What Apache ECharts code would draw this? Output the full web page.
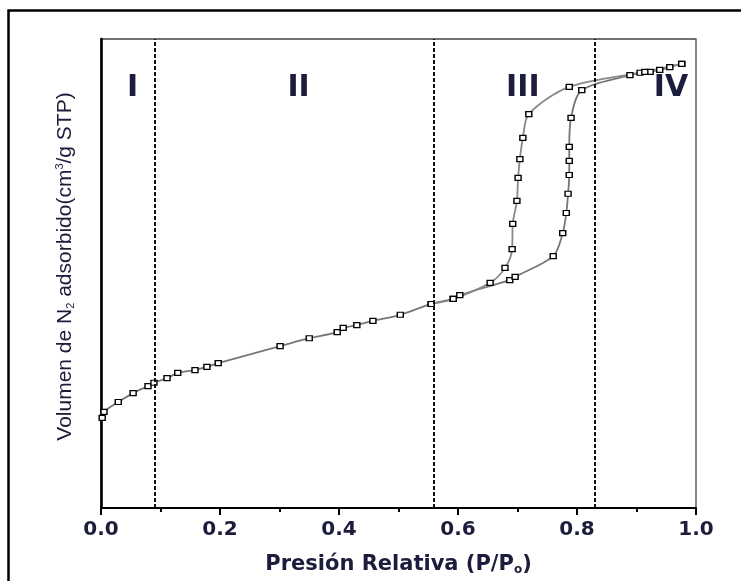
<!DOCTYPE html>
<html>
<head>
<meta charset="utf-8">
<script src="https://cdn.jsdelivr.net/npm/echarts@6/dist/echarts.min.js"></script>
<style>
  html, body { margin: 0; padding: 0; background: #fff; }
  #chart { width: 741px; height: 581px; }
</style>
</head>
<body>
<div id="chart"></div>
<script>
// adsorption branch (P/P0, volume in arbitrary units 0-100)
const adsP = [0.002, 0.005, 0.029, 0.054, 0.079, 0.089, 0.111, 0.129, 0.158, 0.178, 0.197,
  0.301, 0.350, 0.397, 0.407, 0.430, 0.457, 0.503, 0.555, 0.592, 0.603, 0.687, 0.696,
  0.760, 0.776, 0.782, 0.785, 0.787, 0.787, 0.787, 0.790, 0.808, 0.889, 0.906, 0.923,
  0.939, 0.956, 0.976];
const adsV = [19.2, 20.5, 22.6, 24.5, 26.0, 26.7, 27.7, 28.8, 29.4, 30.1, 30.9,
  34.5, 36.2, 37.5, 38.4, 39.0, 39.9, 41.2, 43.5, 44.6, 45.4, 48.6, 49.3,
  53.7, 58.6, 62.9, 67.0, 71.0, 74.0, 77.0, 83.2, 89.1, 92.3, 92.8, 93.0,
  93.4, 94.0, 94.7];

// desorption branch
const desP = [0.976, 0.914, 0.787, 0.719, 0.709, 0.704, 0.701, 0.699, 0.692, 0.691,
  0.679, 0.654, 0.592, 0.555];
const desV = [94.7, 93.0, 89.8, 84.0, 78.9, 74.4, 70.4, 65.5, 60.6, 55.2,
  51.2, 48.0, 44.6, 43.5];

// region boundaries and labels
const boundaries = [0.094, 0.557, 0.833];
const regionNames = ['I', 'II', 'III', 'IV'];
const regionP = [0.053, 0.332, 0.709, 0.958];
const regionV = [89.5, 89.5, 89.5, 89.5];

const textColor = '#1c1c3c';

const chart = echarts.init(document.getElementById('chart'));

const pairs = (xs, ys) => xs.map((x, i) => [x, ys[i]]);

const option = {
  animation: false,
  grid: {
    left: 101, right: 45, top: 39, bottom: 73,
    show: true, borderColor: '#444', borderWidth: 1.3
  },
  graphic: [{
    type: 'rect',
    shape: { x: 8.5, y: 10.5, width: 900, height: 800 },
    style: { fill: 'none', stroke: '#000', lineWidth: 2.5 },
    silent: true
  }],
  xAxis: {
    type: 'value', min: 0, max: 1, interval: 0.2,
    name: 'Presión Relativa (P/P{sub|o})',
    nameLocation: 'middle', nameGap: 46,
    nameTextStyle: {
      fontFamily: 'DejaVu Sans', fontWeight: 'bold', fontSize: 21, color: textColor,
      rich: { sub: { fontFamily: 'DejaVu Sans', fontWeight: 'bold', fontSize: 12, color: textColor, verticalAlign: 'bottom', padding: [10, 0, 0, 0] } }
    },
    axisLine: { show: true, lineStyle: { color: '#000', width: 2 } },
    axisTick: { show: true, inside: false, length: 7, lineStyle: { color: '#000', width: 2 } },
    minorTick: { show: true, splitNumber: 2, length: 4, lineStyle: { color: '#000', width: 2 } },
    axisLabel: {
      margin: 12, fontFamily: 'DejaVu Sans', fontWeight: 'bold', fontSize: 20, color: textColor,
      formatter: v => v.toFixed(1)
    },
    splitLine: { show: false }
  },
  yAxis: {
    type: 'value', min: 0, max: 100,
    name: 'Volumen de N{sub|2} adsorbido(cm{sup|3}/g STP)',
    nameLocation: 'middle', nameRotate: 90, nameGap: 25,
    nameTextStyle: {
      fontFamily: '"Liberation Sans", sans-serif', fontSize: 21, color: textColor,
      padding: [0, 0, 0, 14],
      rich: {
        sub: { fontFamily: '"Liberation Sans"', fontSize: 11, color: textColor, padding: [11, 0, 0, 0] },
        sup: { fontFamily: '"Liberation Sans"', fontSize: 11, color: textColor, padding: [0, 0, 11, 0] }
      }
    },
    axisLine: { show: true, lineStyle: { color: '#000', width: 2.6 } },
    axisTick: { show: false },
    axisLabel: { show: false },
    splitLine: { show: false }
  },
  series: [
    {
      name: 'adsorcion', type: 'line', smooth: 0.3,
      data: pairs(adsP, adsV),
      symbol: 'rect', symbolSize: [6, 5],
      itemStyle: { color: '#fff', borderColor: '#000', borderWidth: 1.3 },
      lineStyle: { color: '#777', width: 1.8 },
      z: 3,
      markLine: {
        silent: true, symbol: 'none',
        label: { show: false },
        lineStyle: { color: '#111', width: 2, type: [4, 2] },
        data: boundaries.map(b => ({ xAxis: b }))
      }
    },
    {
      name: 'desorcion', type: 'line', smooth: 0.3,
      data: pairs(desP, desV),
      symbol: 'rect', symbolSize: [6, 5],
      itemStyle: { color: '#fff', borderColor: '#000', borderWidth: 1.3 },
      lineStyle: { color: '#888', width: 1.8 },
      z: 3
    },
    {
      name: 'regiones', type: 'scatter', symbolSize: 0,
      data: regionNames.map((n, i) => ({ name: n, value: [regionP[i], regionV[i]] })),
      itemStyle: { opacity: 1 },
      label: {
        show: true, position: 'inside', formatter: p => p.name,
        fontFamily: 'DejaVu Sans', fontWeight: 'bold', fontSize: 30, color: textColor
      },
      z: 4
    }
  ]
};

chart.setOption(option);
</script>
</body>
</html>
